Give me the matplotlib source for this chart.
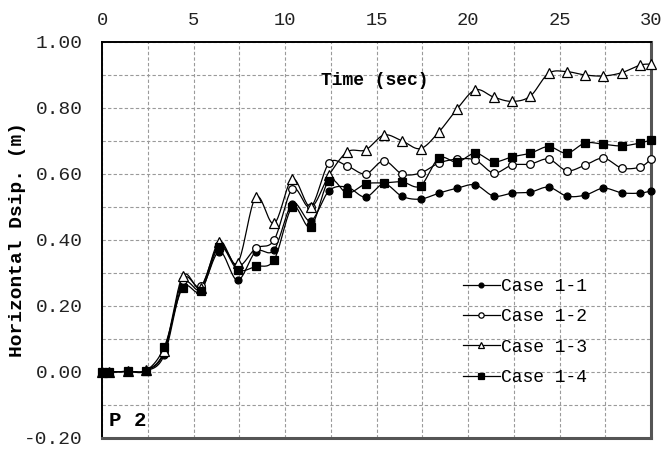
import numpy as np
import matplotlib.pyplot as plt
from matplotlib.lines import Line2D

plt.rcParams['font.family'] = ['Liberation Mono', 'DejaVu Sans Mono']

# time (sec)
t = [0, 0.4, 1.4, 2.4, 3.4, 4.4, 5.4, 6.4, 7.4, 8.4, 9.4, 10.4, 11.4, 12.4,
     13.4, 14.4, 15.4, 16.4, 17.4, 18.4, 19.4, 20.4, 21.4, 22.4, 23.4, 24.4,
     25.4, 26.4, 27.4, 28.4, 29.4, 30.0]

# horizontal displacement (m) at P 2
case_1_1 = [0, 0, 0.002, 0.003, 0.052, 0.265, 0.25, 0.365, 0.278, 0.365, 0.37,
            0.51, 0.458, 0.549, 0.56, 0.53, 0.57, 0.532, 0.524, 0.542, 0.557,
            0.567, 0.533, 0.542, 0.545, 0.56, 0.533, 0.536, 0.557, 0.543,
            0.542, 0.549]
case_1_2 = [0, 0, 0.002, 0.004, 0.06, 0.28, 0.26, 0.385, 0.32, 0.375, 0.40,
            0.555, 0.50, 0.633, 0.624, 0.60, 0.64, 0.60, 0.603, 0.633, 0.645,
            0.642, 0.603, 0.627, 0.63, 0.645, 0.61, 0.627, 0.648, 0.618,
            0.621, 0.645]
case_1_3 = [0, 0, 0.002, 0.005, 0.065, 0.29, 0.255, 0.395, 0.33, 0.53, 0.45,
            0.585, 0.50, 0.597, 0.667, 0.673, 0.718, 0.70, 0.677, 0.727, 0.797,
            0.855, 0.833, 0.82, 0.836, 0.905, 0.91, 0.90, 0.897, 0.907,
            0.93, 0.933]
case_1_4 = [0, 0, 0.002, 0.004, 0.076, 0.255, 0.245, 0.38, 0.31, 0.32, 0.34,
            0.50, 0.44, 0.58, 0.542, 0.57, 0.573, 0.576, 0.564, 0.648, 0.636,
            0.663, 0.637, 0.652, 0.663, 0.683, 0.663, 0.694, 0.69, 0.685,
            0.694, 0.703]

labels = ['Case 1-1', 'Case 1-2', 'Case 1-3', 'Case 1-4']
series = [case_1_1, case_1_2, case_1_3, case_1_4]
markers = [('o', 'black', 5), ('o', 'white', 5.5), ('^', 'white', 6.5), ('s', 'black', 5.5)]


def smooth(x, y, n=20):
    # Catmull-Rom style bezier through the points (like a spreadsheet smoothed line)
    p = np.column_stack([x, y]).astype(float)
    ext = np.vstack([p[0], p, p[-1]])
    out = [p[:1]]
    s = np.linspace(0, 1, n)[1:, None]
    for i in range(len(p) - 1):
        p0, p1, p2, p3 = ext[i], ext[i + 1], ext[i + 2], ext[i + 3]
        c1 = p1 + (p2 - p0) / 6
        c2 = p2 - (p3 - p1) / 6
        seg = ((1 - s) ** 3) * p1 + 3 * ((1 - s) ** 2) * s * c1 \
            + 3 * (1 - s) * s ** 2 * c2 + s ** 3 * p2
        out.append(seg)
    out = np.vstack(out)
    return out[:, 0], out[:, 1]


fig = plt.figure(figsize=(6.63, 4.5), dpi=100)
ax = fig.add_axes([0.154, 0.0267, 0.828, 0.88])

for vals, (m, fc, ms) in zip(series, markers):
    xs, ys = smooth(t, vals)
    ax.plot(xs, ys, color='black', lw=0.9, zorder=3)
    ax.plot(t, vals, ls='none', marker=m, mfc=fc, mec='black', mew=0.9,
            ms=ms, zorder=4, clip_on=False)

ax.set_xlim(0, 30)
ax.set_ylim(-0.2, 1.0)
ax.set_xticks(np.arange(0, 31, 5))
ax.set_xticks(np.arange(0, 31, 2.5), minor=True)
ax.set_yticks(np.arange(-0.2, 1.01, 0.2))
ax.set_yticks(np.arange(-0.2, 1.01, 0.1), minor=True)
ax.yaxis.set_major_formatter(plt.FuncFormatter(lambda v, p: f'{v:.2f}'))
ax.xaxis.tick_top()
ax.tick_params(which='both', length=0)
ax.tick_params(axis='x', pad=9, labelsize=13.5, colors='#222222')
ax.tick_params(axis='y', pad=14, labelsize=14, colors='#222222')

ax.grid(which='both', color='#9a9a9a', ls=(0, (3, 2)), lw=0.8)
ax.set_axisbelow(True)

for side in ['left', 'top']:
    ax.spines[side].set_color('black')
    ax.spines[side].set_linewidth(1.4)
for side in ['right', 'bottom']:
    ax.spines[side].set_color('#555555')
    ax.spines[side].set_linewidth(2.2)

ax.set_ylabel('Horizontal Dsip. (m)', fontsize=14, fontweight='bold')
ax.yaxis.set_label_coords(-0.138, 0.5)
ax.text(0.399, 0.904, 'Time (sec)', transform=ax.transAxes, fontsize=13,
        fontweight='bold', va='center')
ax.text(0.012, 0.045, 'P 2', transform=ax.transAxes, fontsize=15,
        fontweight='bold', va='center')

handles = [Line2D([], [], color='black', lw=0.9, marker=m, mfc=fc, mec='black',
                  mew=0.9, ms=ms * 0.7) for m, fc, ms in markers]
ax.legend(handles, labels, loc='upper left', bbox_to_anchor=(0.645, 0.422),
          frameon=False, fontsize=13, handlelength=2.0, handletextpad=0.1,
          labelspacing=0.74, borderaxespad=0)

fig.savefig('out.png', dpi=100)
